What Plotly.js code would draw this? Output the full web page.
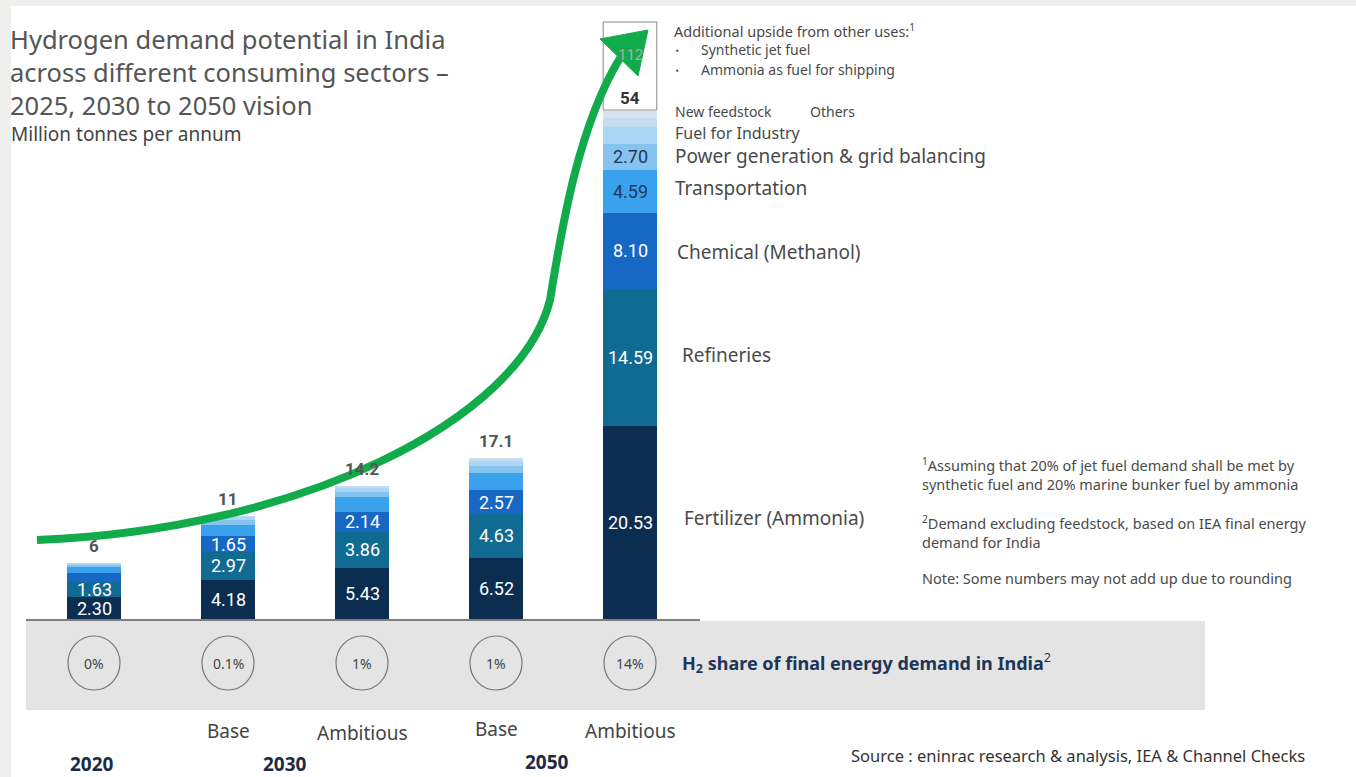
<!DOCTYPE html>
<html>
<head>
<meta charset="utf-8">
<script src="https://cdn.plot.ly/plotly-3.0.1.min.js"></script>
<style>html,body{margin:0;padding:0;background:#fff;}#chart{width:1356px;height:777px;}</style>
</head>
<body>
<div id="chart"></div>
<script>
// ---------------- DATA ----------------
const categories = ['2020', '2030 Base', '2030 Ambitious', '2050 Base', '2050 Ambitious'];
const scenarioLabels = ['', 'Base', 'Ambitious', 'Base', 'Ambitious'];
const yearLabels = ['2020', '2030', '2050'];
const sectors = ['Fertilizer (Ammonia)', 'Refineries', 'Chemical (Methanol)', 'Transportation',
  'Power generation & grid balancing', 'Fuel for Industry', 'New feedstock', 'Others'];
const fertilizer     = [2.30, 4.18, 5.43, 6.52, 20.53];
const refineries     = [1.63, 2.97, 3.86, 4.63, 14.59];
const chemical       = [0.95, 1.65, 2.14, 2.57, 8.10];
const transportation = [0.60, 1.20, 1.50, 1.80, 4.59];
const power          = [0.30, 0.50, 0.60, 0.80, 2.70];
const fuelIndustry   = [0.15, 0.30, 0.40, 0.45, 1.80];
const newFeedstock   = [0.05, 0.15, 0.20, 0.23, 1.00];
const others         = [0.02, 0.05, 0.07, 0.10, 0.69];
const totals = ['6', '11', '14.2', '17.1', '54'];
const upsideTotal = '112';
const h2Share = ['0%', '0.1%', '1%', '1%', '14%'];
// which segment values are printed on the bars
const labelShown = [
  [1, 1, 1, 1, 1],
  [1, 1, 1, 1, 1],
  [0, 1, 1, 1, 1],
  [0, 0, 0, 0, 1],
  [0, 0, 0, 0, 1],
  [0, 0, 0, 0, 0],
  [0, 0, 0, 0, 0],
  [0, 0, 0, 0, 0]
];

// ---------------- STYLE / LAYOUT ----------------
const W = 1356, H = 777;
const PX = x => x / W;
const PY = y => 1 - y / H;
const FONT = 'Roboto, "Noto Sans", sans-serif';
const WIDE = '"Noto Sans", "Open Sans", sans-serif';
const colors = ['#0b2d50', '#106a91', '#1668c4', '#3aa2ec', '#86c4ef', '#a9d6f4', '#c3dcef', '#d6e3ef'];
const labelColors = ['#ffffff', '#ffffff', '#ffffff', '#1d3a5a', '#1d3a5a', '#1d3a5a', '#1d3a5a', '#1d3a5a'];
const series = [fertilizer, refineries, chemical, transportation, power, fuelIndustry, newFeedstock, others];
const xIdx = categories.map((c, i) => i);
const unitX = 134, x0px = 94, basePx = 619, unitY = 9.4;

const traces = series.map((vals, s) => ({
  type: 'bar', name: sectors[s], x: xIdx, y: vals, width: 0.4,
  marker: {color: colors[s], line: {width: 0}}, hoverinfo: 'skip', showlegend: false
}));

const ann = [];
const A = (o) => ann.push(Object.assign({showarrow: false, xanchor: 'center', yanchor: 'middle',
  font: {family: FONT, size: 14, color: '#444'}}, o));

// segment value labels
const cum = categories.map(() => 0);
series.forEach((vals, s) => {
  vals.forEach((v, i) => {
    if (labelShown[s][i]) {
      A({x: i, y: cum[i] + v / 2, xref: 'x', yref: 'y', text: v.toFixed(2),
        font: {family: FONT, size: 18, color: labelColors[s]}});
    }
    cum[i] += v;
  });
});
// totals
totals.forEach((t, i) => {
  if (i < 4) {
    A({x: i, y: cum[i], xref: 'x', yref: 'y', yanchor: 'bottom', yshift: 5, text: '<b>' + t + '</b>',
      font: {family: FONT, size: 17, color: '#555'}});
  } else {
    A({x: i, y: PY(98), xref: 'x', yref: 'paper', text: '<b>' + t + '</b>',
      font: {family: FONT, size: 17, color: '#333'}});
    A({x: i, y: PY(55), xref: 'x', yref: 'paper', text: upsideTotal,
      font: {family: FONT, size: 15, color: '#aaa'}});
  }
});
// sector labels on the right of the last bar
const sectorPx = [[682, 518, 19], [680, 355, 19], [675, 252, 19], [673, 188, 19], [673, 156, 19], [673, 133, 16], [673, 112, 14], [808, 112, 14]];
sectors.forEach((s, k) => {
  A({x: PX(sectorPx[k][0]), y: PY(sectorPx[k][1]), xref: 'paper', yref: 'paper', xanchor: 'left', text: s,
    font: {family: WIDE, size: sectorPx[k][2], color: '#4a4a4a'}});
});
A({x: PX(672), y: PY(31), xref: 'paper', yref: 'paper', xanchor: 'left', text: 'Additional upside from other uses:<sup>1</sup>', font: {family: WIDE, size: 14.5, color: '#4a4a4a'}});
A({x: PX(674), y: PY(50), xref: 'paper', yref: 'paper', xanchor: 'left', text: '▪', font: {family: WIDE, size: 8, color: '#4a4a4a'}});
A({x: PX(674), y: PY(70), xref: 'paper', yref: 'paper', xanchor: 'left', text: '▪', font: {family: WIDE, size: 8, color: '#4a4a4a'}});
A({x: PX(699), y: PY(50), xref: 'paper', yref: 'paper', xanchor: 'left', text: 'Synthetic jet fuel', font: {family: WIDE, size: 14, color: '#4a4a4a'}});
A({x: PX(699), y: PY(70), xref: 'paper', yref: 'paper', xanchor: 'left', text: 'Ammonia as fuel for shipping', font: {family: WIDE, size: 14, color: '#4a4a4a'}});

// title
A({x: PX(8), y: PY(20), xref: 'paper', yref: 'paper', xanchor: 'left', yanchor: 'top', align: 'left',
  text: 'Hydrogen demand potential in India<br>across different consuming sectors –<br>2025, 2030 to 2050 vision',
  font: {family: WIDE, size: 25.5, color: '#555'}});
A({x: PX(9), y: PY(134), xref: 'paper', yref: 'paper', xanchor: 'left', text: 'Million tonnes per annum',
  font: {family: WIDE, size: 19, color: '#444'}});

// footnotes
const foot = [['<sup>1</sup>Assuming that 20% of jet fuel demand shall be met by<br>synthetic fuel and 20% marine bunker fuel by ammonia', 474],
  ['<sup>2</sup>Demand excluding feedstock, based on IEA final energy<br>demand for India', 532],
  ['Note: Some numbers may not add up due to rounding', 578]];
foot.forEach(f => A({x: PX(920), y: PY(f[1]), xref: 'paper', yref: 'paper', xanchor: 'left', align: 'left', text: f[0],
  font: {family: WIDE, size: 14.5, color: '#4a4a4a'}}));

// shares in circles
h2Share.forEach((t, i) => A({x: i, y: PY(663), xref: 'x', yref: 'paper', text: t, font: {family: WIDE, size: 14, color: '#444'}}));
A({x: PX(680), y: PY(663), xref: 'paper', yref: 'paper', xanchor: 'left',
  text: '<b>H<sub>2</sub> share of final energy demand in India</b><sup>2</sup>', font: {family: WIDE, size: 18, color: '#1d3557'}});

// scenario and year labels
const scenY = [0, 731, 733, 729, 731];
scenarioLabels.forEach((t, i) => { if (t) A({x: i, y: PY(scenY[i]), xref: 'x', yref: 'paper', text: t, font: {family: WIDE, size: 19, color: '#444'}}); });
const yearPos = [[92, 764], [285, 764], [547, 762]];
yearLabels.forEach((t, k) => A({x: PX(yearPos[k][0]), y: PY(yearPos[k][1]), xref: 'paper', yref: 'paper', text: '<b>' + t + '</b>',
  font: {family: WIDE, size: 19, color: '#1c2b45'}}));
A({x: PX(1078), y: PY(755), xref: 'paper', yref: 'paper', text: 'Source : eninrac research &amp; analysis, IEA &amp; Channel Checks',
  font: {family: WIDE, size: 16.5, color: '#333'}});

// shapes
const shapes = [];
shapes.push({type: 'rect', xref: 'paper', yref: 'paper', x0: 0, x1: PX(11), y0: 0, y1: 1, fillcolor: '#efefed', line: {width: 0}, layer: 'below'});
shapes.push({type: 'rect', xref: 'paper', yref: 'paper', x0: 0, x1: 1, y0: PY(6), y1: 1, fillcolor: '#efefed', line: {width: 0}, layer: 'below'});
shapes.push({type: 'rect', xref: 'paper', yref: 'paper', x0: PX(26), x1: PX(1205), y0: PY(710), y1: PY(621), fillcolor: '#e4e4e4', line: {width: 0}, layer: 'below'});
shapes.push({type: 'line', xref: 'paper', yref: 'paper', x0: PX(26), x1: PX(700), y0: PY(620), y1: PY(620), line: {color: '#555', width: 1.5}});
h2Share.forEach((t, i) => shapes.push({type: 'circle', xref: 'x', yref: 'paper', x0: i - 26 / unitX, x1: i + 26 / unitX,
  y0: PY(690), y1: PY(636), line: {color: '#777', width: 1.2}, fillcolor: 'rgba(0,0,0,0)'}));
// upside box on top of last bar
shapes.push({type: 'rect', xref: 'x', yref: 'paper', x0: 4 - 0.2, x1: 4 + 0.2, y0: PY(110), y1: PY(22), fillcolor: '#fff', line: {color: '#888', width: 1}});
// green growth arrow
const P = (x, y) => PX(x).toFixed(5) + ',' + PY(y).toFixed(5);
const curve = 'M' + P(37, 540) + ' C' + P(300, 530) + ' ' + P(520, 420) + ' ' + P(550, 300) +
  ' C' + P(560, 240) + ' ' + P(576, 130) + ' ' + P(620, 58);
shapes.push({type: 'path', xref: 'paper', yref: 'paper', path: curve, line: {color: '#12ab4b', width: 8}, layer: 'above'});
const head = 'M' + P(648, 30) + ' L' + P(600, 39) + ' L' + P(638, 76) + ' Z';
shapes.push({type: 'path', xref: 'paper', yref: 'paper', path: head, fillcolor: '#12ab4b', line: {color: '#12ab4b', width: 1}, layer: 'above'});

const layout = {
  width: W, height: H, margin: {l: 0, r: 0, t: 0, b: 0},
  paper_bgcolor: '#ffffff', plot_bgcolor: 'rgba(0,0,0,0)',
  barmode: 'stack', showlegend: false,
  xaxis: {range: [-x0px / unitX, (W - x0px) / unitX], visible: false, fixedrange: true},
  yaxis: {range: [-(H - basePx) / unitY, basePx / unitY], visible: false, fixedrange: true},
  annotations: ann, shapes: shapes, font: {family: FONT}
};
Plotly.newPlot('chart', traces, layout, {displayModeBar: false, staticPlot: true});
</script>
</body>
</html>
